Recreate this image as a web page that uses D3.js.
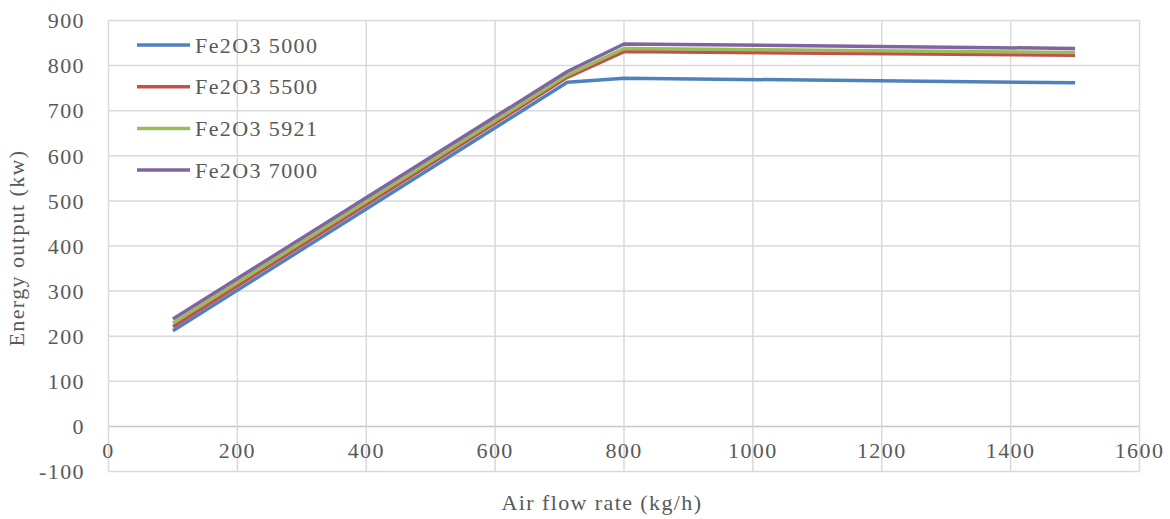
<!DOCTYPE html>
<html>
<head>
<meta charset="utf-8">
<script src="https://cdn.jsdelivr.net/npm/d3@7"></script>
<style>
  html, body { margin: 0; padding: 0; background: #fff; }
  svg text { font-family: "Liberation Serif", "DejaVu Serif", serif; fill: #595959; letter-spacing: 1.4px; }
</style>
</head>
<body>
<svg id="chart" width="1170" height="519"></svg>
<script>
const airFlow = [100, 712, 800, 1500];
const seriesNames = ["Fe2O3 5000", "Fe2O3 5500", "Fe2O3 5921", "Fe2O3 7000"];
const fe5000 = [212, 763, 772, 762];
const fe5500 = [221, 774, 831, 823];
const fe5921 = [229, 779, 838, 829];
const fe7000 = [238, 787, 848, 838];
const xTicks = [0, 200, 400, 600, 800, 1000, 1200, 1400, 1600];
const yTicks = [-100, 0, 100, 200, 300, 400, 500, 600, 700, 800, 900];
const colors = ["#4f81bd", "#c0504d", "#9bbb59", "#8064a2"];
const xTitle = "Air flow rate (kg/h)";
const yTitle = "Energy output (kw)";

const allSeries = [fe5000, fe5500, fe5921, fe7000];
const svg = d3.select("#chart");
const pLeft = 108.5, pRight = 1139.5, pTop = 20.5, pBottom = 471.5;
const fs = 22;

const x = d3.scaleLinear().domain([0, 1600]).range([pLeft, pRight]);
const y = d3.scaleLinear().domain([-100, 900]).range([pBottom, pTop]);

// horizontal gridlines
svg.append("g").selectAll("line").data(yTicks).join("line")
  .attr("x1", pLeft).attr("x2", pRight)
  .attr("y1", d => y(d)).attr("y2", d => y(d))
  .attr("stroke", d => d === 0 ? "#c8c8c8" : "#d9d9d9").attr("stroke-width", 1.5);
// vertical gridlines
svg.append("g").selectAll("line").data(xTicks).join("line")
  .attr("x1", d => x(d)).attr("x2", d => x(d))
  .attr("y1", pTop).attr("y2", pBottom)
  .attr("stroke", "#d9d9d9").attr("stroke-width", 1.5);

// y tick labels
svg.append("g").selectAll("text").data(yTicks).join("text")
  .attr("x", 85).attr("y", d => y(d)).attr("dy", "0.35em")
  .attr("text-anchor", "end").attr("font-size", fs)
  .text(d => d);

// x tick labels (just below zero line)
svg.append("g").selectAll("text").data(xTicks).join("text")
  .attr("x", d => x(d)).attr("y", y(0) + 32)
  .attr("text-anchor", "middle").attr("font-size", fs)
  .text(d => d);

// axis titles
svg.append("text").attr("x", 602).attr("y", 510)
  .attr("text-anchor", "middle").attr("font-size", fs).text(xTitle);
svg.append("text")
  .attr("transform", `translate(24, 248) rotate(-90)`)
  .attr("text-anchor", "middle").attr("font-size", fs).text(yTitle);

// lines
const line = d3.line().x((d, i) => x(airFlow[i])).y(d => y(d));
svg.append("g").selectAll("path").data(allSeries).join("path")
  .attr("d", d => line(d))
  .attr("fill", "none")
  .attr("stroke", (d, i) => colors[i])
  .attr("stroke-width", 3.5)
  .attr("stroke-linejoin", "round");

// legend
const lg = svg.append("g").selectAll("g").data(seriesNames).join("g")
  .attr("transform", (d, i) => `translate(137, ${45 + i * 41.7})`);
lg.append("line").attr("x1", 0).attr("x2", 53).attr("y1", 0).attr("y2", 0)
  .attr("stroke", (d, i) => colors[i]).attr("stroke-width", 3.5);
lg.append("text").attr("x", 58).attr("y", 0).attr("dy", "0.35em")
  .attr("font-size", fs).text(d => d);
</script>
</body>
</html>
